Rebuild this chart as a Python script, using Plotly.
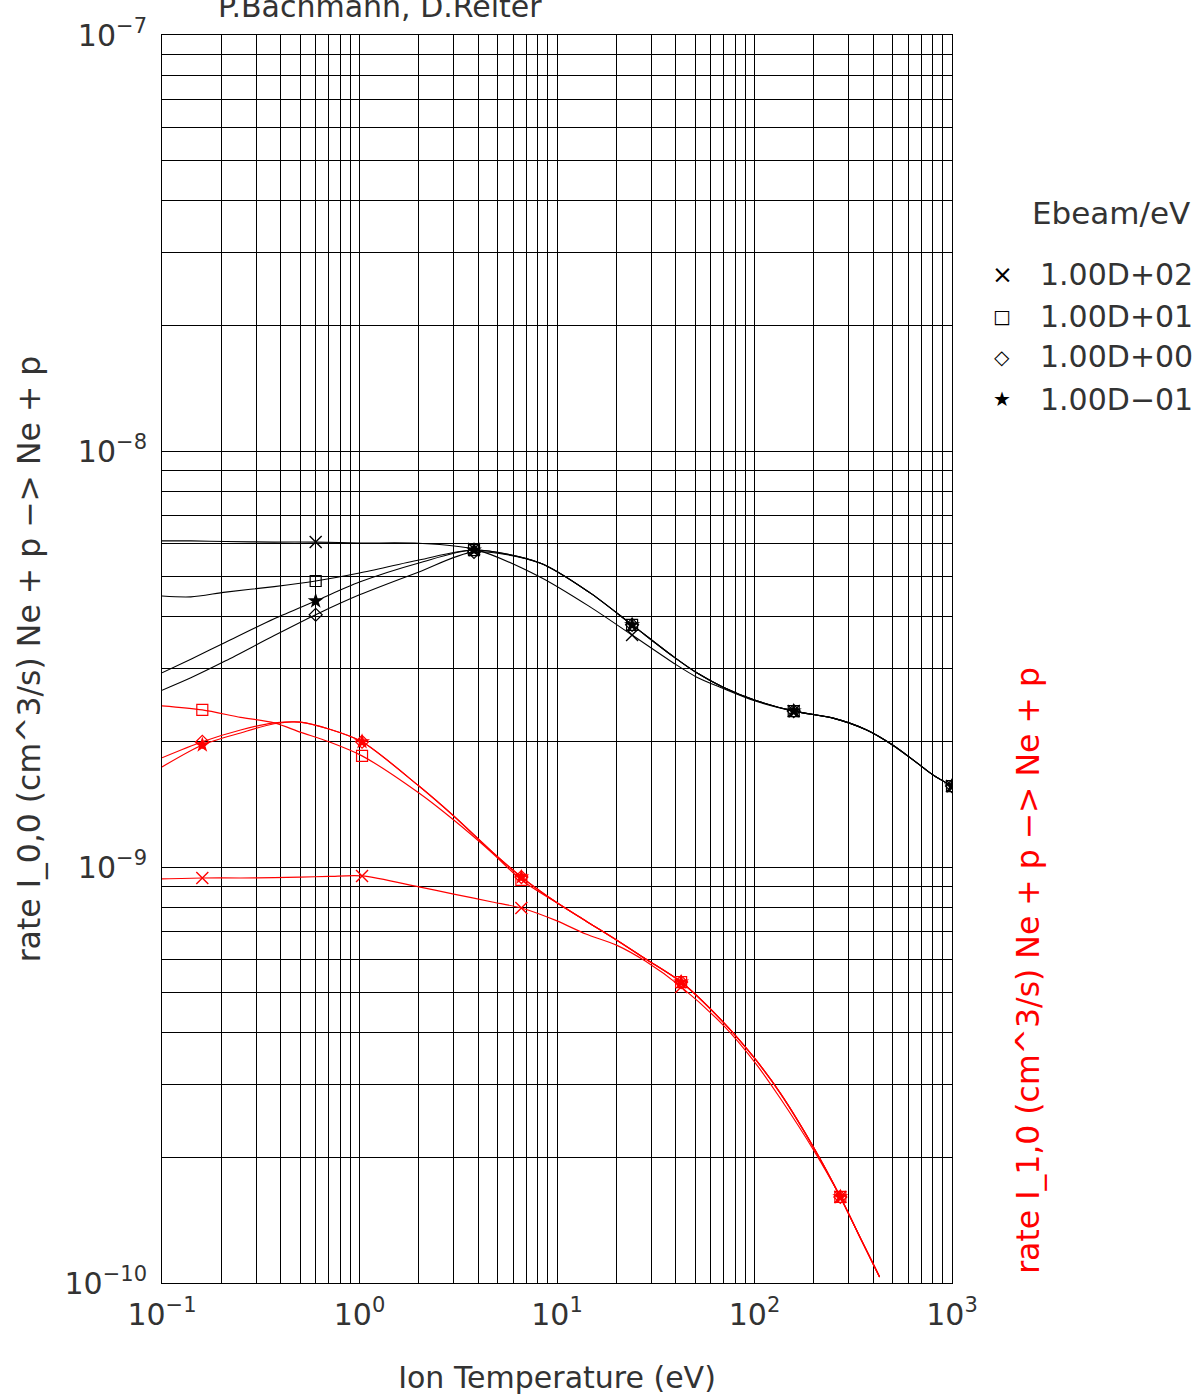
import plotly.graph_objects as go

# Ion temperature grids (eV)
T_GROUND = [0.1, 0.14, 0.21, 0.37, 0.6, 1.0, 2.0, 3.8, 8.2, 14.7, 24, 39, 51, 69,
            100, 158, 250, 370, 500, 665, 800, 1000]
T_EXCITED = [0.1, 0.16, 0.25, 0.37, 0.5, 0.7, 1.03, 2.0, 3.0, 4.7, 6.6, 10, 14, 20,
             28, 42.5, 70, 100, 135, 200, 272, 350, 430]

# Marker positions (indices into the grids above)
MARK_IDX_GROUND = [4, 7, 10, 15, 21]
MARK_IDX_EXCITED = [1, 6, 10, 15, 20]

# rate I_0,0 (cm^3/s) for each beam energy
rate00_e100 = [6.08e-9, 6.08e-9, 6.06e-9, 6.04e-9, 6.04e-9, 6.01e-9, 6.00e-9, 5.81e-9,
               4.98e-9, 4.22e-9, 3.61e-9, 3.09e-9, 2.86e-9, 2.69e-9, 2.51e-9, 2.37e-9,
               2.28e-9, 2.135e-9, 1.965e-9, 1.78e-9, 1.665e-9, 1.565e-9]
rate00_e10 = [4.48e-9, 4.46e-9, 4.58e-9, 4.72e-9, 4.87e-9, 5.09e-9, 5.47e-9, 5.78e-9,
              5.38e-9, 4.56e-9, 3.82e-9, 3.20e-9, 2.93e-9, 2.71e-9, 2.52e-9, 2.37e-9,
              2.28e-9, 2.135e-9, 1.965e-9, 1.78e-9, 1.665e-9, 1.565e-9]
rate00_e1 = [2.66e-9, 2.85e-9, 3.13e-9, 3.60e-9, 4.04e-9, 4.51e-9, 5.12e-9, 5.72e-9,
             5.38e-9, 4.56e-9, 3.82e-9, 3.20e-9, 2.93e-9, 2.71e-9, 2.52e-9, 2.37e-9,
             2.28e-9, 2.135e-9, 1.965e-9, 1.78e-9, 1.665e-9, 1.565e-9]
rate00_e01 = [2.93e-9, 3.16e-9, 3.47e-9, 3.95e-9, 4.36e-9, 4.84e-9, 5.38e-9, 5.78e-9,
              5.38e-9, 4.56e-9, 3.82e-9, 3.20e-9, 2.93e-9, 2.71e-9, 2.52e-9, 2.37e-9,
              2.28e-9, 2.135e-9, 1.965e-9, 1.78e-9, 1.665e-9, 1.565e-9]

# rate I_1,0 (cm^3/s) for each beam energy
rate10_e100 = [9.36e-10, 9.41e-10, 9.41e-10, 9.43e-10, 9.46e-10, 9.49e-10, 9.52e-10,
               8.96e-10, 8.61e-10, 8.24e-10, 7.97e-10, 7.42e-10, 6.90e-10, 6.49e-10,
               5.94e-10, 5.15e-10, 4.15e-10, 3.40e-10, 2.78e-10, 2.08e-10, 1.61e-10,
               1.26e-10, 1.034e-10]
rate10_e10 = [2.44e-9, 2.385e-9, 2.29e-9, 2.22e-9, 2.11e-9, 2.00e-9, 1.85e-9, 1.506e-9,
              1.297e-9, 1.081e-9, 9.31e-10, 8.20e-10, 7.42e-10, 6.68e-10, 6.02e-10,
              5.29e-10, 4.22e-10, 3.47e-10, 2.86e-10, 2.11e-10, 1.61e-10, 1.26e-10,
              1.034e-10]
rate10_e1 = [1.83e-9, 2.00e-9, 2.135e-9, 2.22e-9, 2.23e-9, 2.146e-9, 2.00e-9, 1.565e-9,
             1.326e-9, 1.087e-9, 9.46e-10, 8.20e-10, 7.42e-10, 6.68e-10, 6.02e-10,
             5.29e-10, 4.22e-10, 3.47e-10, 2.86e-10, 2.11e-10, 1.61e-10, 1.26e-10,
             1.034e-10]
rate10_e01 = [1.74e-9, 1.965e-9, 2.10e-9, 2.21e-9, 2.23e-9, 2.146e-9, 2.00e-9, 1.565e-9,
              1.326e-9, 1.087e-9, 9.46e-10, 8.20e-10, 7.42e-10, 6.68e-10, 6.02e-10,
              5.29e-10, 4.22e-10, 3.47e-10, 2.86e-10, 2.11e-10, 1.61e-10, 1.26e-10,
              1.034e-10]

BEAM_LABELS = ["1.00D+02", "1.00D+01", "1.00D+00", "1.00D\u221201"]
LEGEND_GLYPHS = ["\u00d7", "\u25a1", "\u25c7", "\u2605"]
X_DECADES = [-1, 0, 1, 2, 3]
Y_DECADES = [-10, -9, -8, -7]

FONT = "DejaVu Sans"
TEXT_COLOR = "#333333"

SYMBOLS = [
    dict(symbol="x-thin-open", size=12, line=dict(width=1.4)),
    dict(symbol="square-open", size=11, line=dict(width=1.2)),
    dict(symbol="diamond-open", size=10, line=dict(width=1.2)),
    dict(symbol="star", size=12, line=dict(width=0)),
]

fig = go.Figure()


def add_family(t, curves, idx, color, width):
    for sym, vals in zip(SYMBOLS, curves):
        fig.add_trace(go.Scatter(
            x=t, y=vals, mode="lines",
            line=dict(color=color, width=width, shape="spline", smoothing=0.8),
            showlegend=False, hoverinfo="skip"))
        m = dict(sym)
        m["color"] = color
        m["line"] = dict(m["line"], color=color)
        fig.add_trace(go.Scatter(
            x=[t[i] for i in idx], y=[vals[i] for i in idx], mode="markers",
            marker=m, showlegend=False))


add_family(T_GROUND, [rate00_e100, rate00_e10, rate00_e1, rate00_e01],
           MARK_IDX_GROUND, "black", 1.1)
add_family(T_EXCITED, [rate10_e100, rate10_e10, rate10_e1, rate10_e01],
           MARK_IDX_EXCITED, "#ff0000", 1.2)


def log_ticks(decades):
    vals, text = [], []
    for d in decades:
        sign = "\u2212" if d < 0 else ""
        vals.append(10.0 ** d)
        text.append(f"10<sup>{sign}{abs(d)}</sup>")
        if d != decades[-1]:
            for k in range(2, 10):
                vals.append(k * 10.0 ** d)
                text.append("")
    return vals, text


xv, xt = log_ticks(X_DECADES)
yv, yt = log_ticks(Y_DECADES)

axis_common = dict(
    showgrid=True, gridcolor="black", gridwidth=1,
    showline=True, linecolor="black", linewidth=1, mirror=True,
    ticks="", zeroline=False, automargin=False,
    tickfont=dict(family=FONT, size=30, color=TEXT_COLOR),
)

fig.update_xaxes(type="log", range=[-1, 3], tickmode="array", tickvals=xv, ticktext=xt,
                 ticklabelstandoff=5,
                 title=dict(text="Ion Temperature (eV)", standoff=35,
                            font=dict(family=FONT, size=30, color=TEXT_COLOR)),
                 **axis_common)
fig.update_yaxes(type="log", range=[-10, -7], tickmode="array", tickvals=yv, ticktext=yt,
                 ticklabelstandoff=8,
                 title=dict(text="rate I_0,0 (cm^3/s) Ne + p \u2212> Ne + p", standoff=14,
                            font=dict(family=FONT, size=31.5, color=TEXT_COLOR)),
                 **axis_common)

# legend block in the right margin: title, symbol column, label column
legend_notes = [
    dict(text="Ebeam/eV", xref="paper", yref="paper", x=1.0987, y=0.8574,
         xanchor="left", yanchor="middle", showarrow=False,
         font=dict(family=FONT, size=31, color=TEXT_COLOR)),
]
legend_rows_y = [0.8077, 0.7748, 0.7420, 0.7083]
glyph_sizes = [25, 19, 20, 20]
for glyph, gsize, label, ry in zip(LEGEND_GLYPHS, glyph_sizes, BEAM_LABELS, legend_rows_y):
    legend_notes.append(dict(text=glyph, xref="paper", yref="paper", x=1.0633, y=ry,
                             xanchor="center", yanchor="middle", showarrow=False,
                             font=dict(family=FONT, size=gsize, color="black")))
    legend_notes.append(dict(text=label, xref="paper", yref="paper", x=1.1089, y=ry,
                             xanchor="left", yanchor="middle", showarrow=False,
                             font=dict(family=FONT, size=30, color=TEXT_COLOR)))

fig.update_layout(
    width=1196, height=1397,
    margin=dict(l=162, r=244, t=35, b=114),
    paper_bgcolor="white", plot_bgcolor="white",
    font=dict(family=FONT, color=TEXT_COLOR),
    showlegend=False,
    annotations=[
        dict(text="P.Bachmann, D.Reiter", xref="paper", yref="paper", x=0.276, y=1,
             yshift=29, xanchor="center", yanchor="middle", showarrow=False,
             font=dict(family=FONT, size=30, color=TEXT_COLOR)),
        dict(text="rate I_1,0 (cm^3/s) Ne + p \u2212> Ne + p", xref="paper", yref="paper",
             x=1.096, y=0.2508, textangle=-90, xanchor="center", yanchor="middle",
             showarrow=False, font=dict(family=FONT, size=31.5, color="#ff0000")),
    ] + legend_notes,
)

fig.write_html("out.html")
